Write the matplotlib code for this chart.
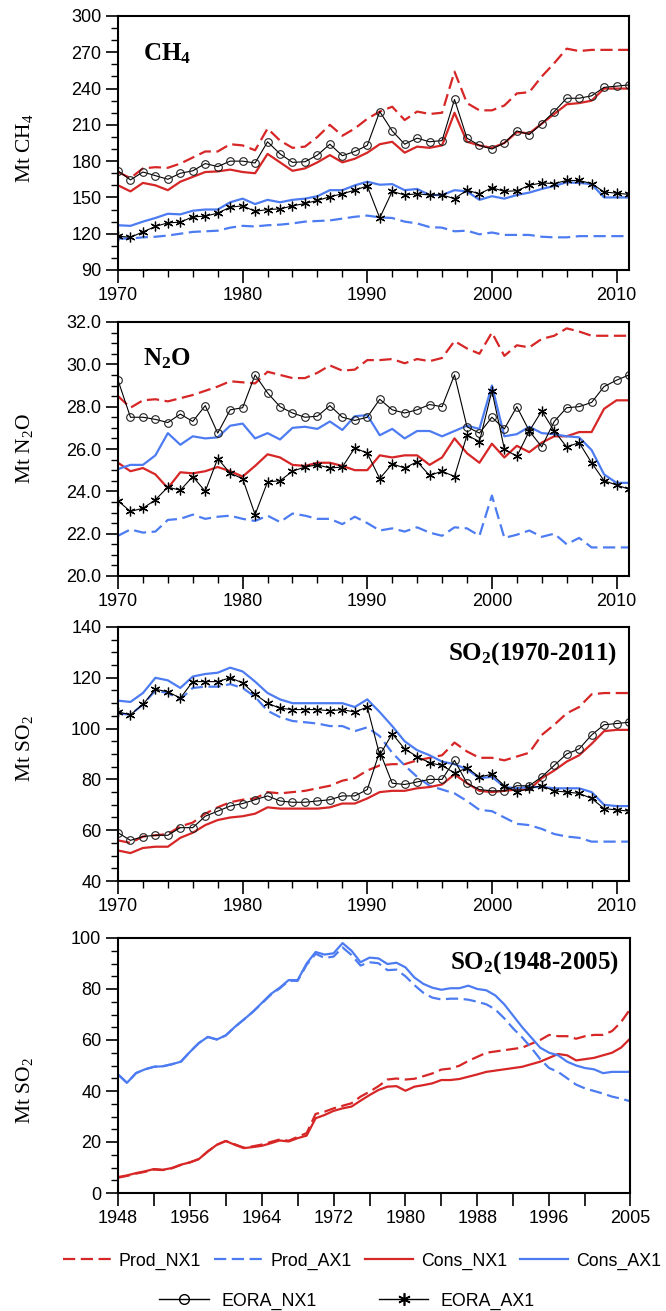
import numpy as np
import matplotlib
matplotlib.use('Agg')
import matplotlib.pyplot as plt
from matplotlib.lines import Line2D
from matplotlib.ticker import MultipleLocator, FixedLocator, FormatStrFormatter

# ---------------- data ----------------
years_a = list(range(1970, 2012))
years_b = list(range(1948, 2006))

# CH4 (Mt CH4), 1970-2011
ch4_prod_nx1 = [171, 166, 174, 175, 174.5, 178, 183, 188, 188, 194,
                193, 189, 207, 197, 191, 192, 200, 210, 201, 207,
                215, 221, 225, 214, 221, 219, 220, 254, 228, 222,
                222, 226, 236, 237, 250, 261, 273, 271, 272, 272,
                272, 272]
ch4_cons_nx1 = [160, 155, 162, 160, 156, 163, 167, 171, 171.5, 173,
                171, 170, 186, 179, 172, 174, 179, 185, 179, 182,
                187, 194, 196, 187, 192, 191, 193, 220, 196, 193,
                191, 195, 204, 203, 211, 219, 227, 228, 230, 240,
                240, 240]
ch4_eora_nx1 = [172, 164.5, 171, 168, 165, 170, 172, 178, 175.5, 180,
                180, 178.5, 196, 186, 179, 179.5, 185, 194, 184.5, 188,
                193, 221, 205, 194, 199, 196, 197, 231, 199, 193,
                190, 195, 205, 202, 211, 221, 232, 232, 234, 241,
                242, 243]
ch4_cons_ax1 = [127, 126.5, 130, 133, 136.5, 136, 139, 140, 140, 146,
                149, 144.5, 148, 146, 148, 149, 151, 156, 156, 160,
                163, 160.5, 161, 156, 157, 152, 152, 156, 155, 148,
                151, 149, 152, 154, 157, 159.5, 162.5, 162, 161, 150,
                150, 150]
ch4_eora_ax1 = [118, 117, 121.5, 126, 129, 129.5, 134, 134.5, 137, 142,
                143, 138.5, 140, 140.5, 143, 145, 147.5, 150.5, 153, 156,
                159.5, 133, 155, 152, 153, 152, 152, 149, 156, 153,
                158, 155, 155.5, 160, 162, 161.5, 164, 164, 161.5, 154.5,
                153.5, 152.5]
ch4_prod_ax1 = [116, 116, 117, 117.5, 118.5, 120, 121.5, 122, 122.5, 125,
                126.5, 126, 127, 127.5, 128.5, 130, 130.5, 131, 132.5, 134,
                135, 133.5, 133, 130, 128.5, 125.5, 125, 122, 122.5, 119.5,
                121, 119, 119, 119, 117.5, 117, 117, 118, 118, 118,
                118, 118]

# N2O (Mt N2O), 1970-2011
n2o_prod_nx1 = [28.5, 27.95, 28.3, 28.35, 28.25, 28.4, 28.55, 28.75, 28.95, 29.2,
                29.15, 29.1, 29.65, 29.5, 29.35, 29.35, 29.6, 29.95, 29.7, 29.75,
                30.2, 30.2, 30.25, 30.05, 30.25, 30.15, 30.3, 31.1, 30.75, 30.5,
                31.5, 30.4, 30.9, 30.8, 31.2, 31.35, 31.7, 31.55, 31.35, 31.35,
                31.35, 31.35]
n2o_eora_nx1 = [29.25, 27.5, 27.5, 27.4, 27.25, 27.65, 27.3, 28.05, 26.75, 27.85,
                27.95, 29.5, 28.65, 28.0, 27.7, 27.5, 27.55, 28.05, 27.5, 27.35,
                27.5, 28.35, 27.85, 27.7, 27.85, 28.1, 28.0, 29.5, 27.05, 26.75,
                27.5, 26.95, 28.0, 26.85, 26.1, 27.3, 27.95, 28.0, 28.2, 28.95,
                29.25, 29.5]
n2o_cons_ax1 = [25.05, 25.25, 25.25, 25.7, 26.75, 26.2, 26.6, 26.5, 26.55, 27.1,
                27.2, 26.5, 26.75, 26.45, 27.0, 27.05, 26.95, 27.3, 26.9, 27.55,
                27.6, 26.65, 26.95, 26.5, 26.85, 26.85, 26.6, 26.85, 27.1, 26.95,
                29.0, 26.6, 26.7, 27.05, 26.75, 26.7, 26.6, 26.55, 25.95, 24.8,
                24.4, 24.4]
n2o_cons_nx1 = [25.35, 24.95, 25.1, 24.8, 24.15, 24.9, 24.85, 24.95, 25.15, 24.95,
                24.7, 25.2, 25.75, 25.6, 25.25, 25.2, 25.35, 25.35, 25.2, 25.0,
                25.0, 25.7, 25.6, 25.7, 25.7, 25.25, 25.6, 26.5, 25.8, 25.35,
                26.25, 25.6, 26.15, 25.85, 26.3, 26.6, 26.6, 26.8, 26.8, 27.9,
                28.3, 28.3]
n2o_eora_ax1 = [23.55, 23.05, 23.2, 23.6, 24.2, 24.05, 24.7, 24.0, 25.55, 24.85,
                24.6, 22.9, 24.45, 24.5, 24.95, 25.15, 25.25, 25.1, 25.15, 26.05,
                25.8, 24.6, 25.3, 25.1, 25.4, 24.75, 24.95, 24.7, 26.65, 26.35,
                28.75, 26.0, 25.65, 26.85, 27.8, 26.85, 26.1, 26.3, 25.35, 24.5,
                24.3, 24.1]
n2o_prod_ax1 = [21.9, 22.2, 22.05, 22.1, 22.65, 22.7, 22.9, 22.7, 22.8, 22.85,
                22.7, 22.6, 22.85, 22.55, 22.95, 22.85, 22.7, 22.7, 22.45, 22.8,
                22.5, 22.15, 22.25, 22.1, 22.3, 22.05, 21.9, 22.3, 22.25, 21.9,
                23.8, 21.8, 21.95, 22.15, 21.85, 22.0, 21.5, 21.8, 21.35, 21.35,
                21.35, 21.35]

# SO2 (Mt SO2), 1970-2011
so2a_cons_ax1 = [111, 110.5, 114, 120, 119, 116, 120.5, 121.5, 122, 124,
                 122.5, 118.5, 114, 111.5, 110, 110, 110, 110, 110, 108.5,
                 111.5, 106.5, 101, 95, 91.5, 89.5, 87, 86, 84, 80.5,
                 81, 77, 76.5, 77, 77, 76.5, 76.5, 76.5, 75, 70,
                 69.5, 69.5]
so2a_eora_ax1 = [106.5, 105.5, 109.5, 115.5, 114.5, 112, 118.5, 118.5, 118.5, 120,
                 118, 113.5, 110, 108, 107.5, 107.5, 107.5, 107, 107.5, 106.5,
                 108.5, 89.5, 98, 92, 89, 86.5, 85.5, 82.5, 84.5, 81,
                 82, 77.5, 75, 76.5, 77.5, 75.5, 75, 74.5, 72.5, 68.5,
                 68, 67.5]
so2a_prod_ax1 = [106, 105.5, 109.5, 115, 114, 111.5, 116, 116.5, 116.5, 117.5,
                 116, 112.5, 107, 104.5, 103, 102.5, 102, 101, 101, 99,
                 100.5, 97, 90.5, 85.5, 81, 77.5, 76, 74.5, 71.5, 68,
                 67.5, 65, 62.5, 62, 60.5, 58.5, 57.5, 57, 55.5, 55.5,
                 55.5, 55.5]
so2a_prod_nx1 = [56, 55, 57.5, 58, 58.5, 61.5, 63, 66.5, 69, 71,
                 72, 72.5, 75, 74.5, 75, 75.5, 76.5, 77.5, 79.5, 80.5,
                 83.5, 85.5, 86, 86, 87.5, 88.5, 89.5, 94.5, 91, 88.5,
                 88.5, 87.5, 89, 90.5, 97.5, 101.5, 106, 108.5, 113.5, 114,
                 114, 114]
so2a_eora_nx1 = [59, 56, 57.5, 58, 58, 61, 61, 65.5, 67.5, 69.5,
                 70.5, 72, 73.5, 71.5, 71, 71, 71.5, 72, 73.5, 73.5,
                 76, 91, 78.5, 78, 79, 80, 80, 87.5, 78.5, 76,
                 75.5, 75.5, 77.5, 77.5, 81, 85.5, 90, 92, 97.5, 101.5,
                 102, 102.5]
so2a_cons_nx1 = [52, 51, 53, 53.5, 53.5, 57, 59, 62, 64, 65,
                 65.5, 66.5, 69, 68.5, 68.5, 68.5, 68.5, 69, 70.5, 70.5,
                 72.5, 75, 75.5, 75.5, 76.5, 77, 78, 82, 78.5, 75.5,
                 75, 75.5, 76, 76, 80.5, 83.5, 87, 89.5, 94, 99,
                 99.5, 99.5]

# SO2 (Mt SO2), 1948-2005
so2b_cons_ax1 = [46.5, 43.2, 47, 48.5, 49.5, 49.7, 50.5, 51.5, 55.3, 58.8,
                 61.2, 60.2, 61.8, 65.1, 68, 71, 74.5, 78, 80.5, 83.5,
                 83.5, 90, 94.5, 93.5, 94, 98, 95, 90.5, 92.3, 92,
                 89.8, 90.3, 88.5, 84.5, 82, 80.5, 79.7, 80.3, 80.3, 81.3,
                 80, 79.5, 77.5, 74, 69.5, 65, 61, 57, 55, 54,
                 51.5, 50, 49, 48.5, 47, 47.5, 47.5, 47.5]
so2b_prod_ax1 = [46.5, 43.2, 47, 48.5, 49.5, 49.7, 50.5, 51.5, 55.3, 58.8,
                 61.2, 60.2, 61.8, 65.1, 68, 71, 74.3, 77.7, 80.2, 83.2,
                 83.2, 89.5, 93.8, 92.2, 92.7, 96.3, 93.3, 89.2, 90.5, 90.1,
                 87.4, 87.6, 85, 81.5, 78.5, 76.6, 75.9, 76.2, 76.2, 75.8,
                 75, 74, 72, 68.5, 64.5, 61, 57, 52.5, 49, 47.5,
                 45, 42.5, 41, 40, 39, 37.8, 37, 36]
so2b_cons_nx1 = [6.25, 6.9, 7.8, 8.5, 9.4, 9.1, 9.8, 11.1, 12, 13.3,
                 16.3, 18.9, 20.4, 18.9, 17.6, 18, 18.5, 19.5, 20.6, 20.2,
                 21.5, 22.5, 29.3, 30.6, 32.2, 33.2, 33.9, 36.2, 38.4, 40.4,
                 41.7, 41.9, 40.1, 41.7, 42.3, 43, 44.3, 44.3, 44.7, 45.6,
                 46.5, 47.5, 48, 48.5, 49, 49.5, 50.5, 51.5, 53, 54.5,
                 54, 52, 52.5, 53, 54, 55, 57, 60.5]
so2b_prod_nx1 = [6, 6.7, 7.6, 8.3, 9.2, 9, 9.7, 11, 12, 13.3,
                 16.3, 18.9, 20.4, 19.1, 17.8, 18.3, 19, 20, 21, 20.5,
                 22, 23.5, 31, 31.9, 33.2, 34.2, 35.2, 37.8, 39.7, 41.9,
                 44.5, 44.9, 44.5, 44.8, 45.8, 46.9, 48.4, 48.8, 49.9, 51.8,
                 53.4, 55, 55.5, 56, 56.5, 57, 58.5, 60, 62, 61.5,
                 61.5, 60.5, 61.5, 62, 62, 63.5, 67, 72]

labels = ['Prod_NX1', 'Prod_AX1', 'Cons_NX1', 'Cons_AX1', 'EORA_NX1', 'EORA_AX1']

# ---------------- style ----------------
RED = '#d62626'
BLUE = '#4d7cf2'
plt.rcParams['font.family'] = ['Liberation Sans', 'DejaVu Sans']
plt.rcParams['mathtext.fontset'] = 'custom'
plt.rcParams['mathtext.rm'] = 'Liberation Serif'
plt.rcParams['mathtext.default'] = 'regular'

W, H = 666, 1311
fig = plt.figure(figsize=(W / 100, H / 100), dpi=100)


def make_axes(l, t, r, b):
    return fig.add_axes([l / W, 1 - b / H, (r - l) / W, (b - t) / H])


LW = 1.6
DASH = (5.5, 2.5)


def style(ax):
    for s in ax.spines.values():
        s.set_linewidth(1.5)
    ax.tick_params(which='both', direction='out', top=False, right=False)
    ax.tick_params(which='major', length=9, width=1.2, labelsize=13, pad=3)
    ax.tick_params(which='minor', length=5, width=1.0)


def draw_main(ax, pn, pa, cn, ca, en, ea, years):
    ax.plot(years, pn, color=RED, lw=LW, dashes=DASH)
    ax.plot(years, pa, color=BLUE, lw=LW, dashes=DASH)
    ax.plot(years, cn, color=RED, lw=LW)
    ax.plot(years, ca, color=BLUE, lw=LW)
    if en is not None:
        ax.plot(years, en, color='black', lw=0.8, marker='o', ms=5.5,
                mfc='none', mec='#222222', mew=0.8)
        ax.plot(years, ea, color='black', lw=0.8, marker=(6, 2, 0), ms=7,
                mec='black', mew=0.9)


def year_axis(ax):
    ax.set_xlim(1970, 2011)
    ax.xaxis.set_major_locator(FixedLocator([1970, 1980, 1990, 2000, 2010]))
    ax.xaxis.set_minor_locator(MultipleLocator(2))


serif = 'Liberation Serif'
YLX = -0.163

# Panel 1: CH4
ax1 = make_axes(118, 16, 629, 270)
draw_main(ax1, ch4_prod_nx1, ch4_prod_ax1, ch4_cons_nx1, ch4_cons_ax1,
          ch4_eora_nx1, ch4_eora_ax1, years_a)
year_axis(ax1)
ax1.set_ylim(90, 300)
ax1.yaxis.set_major_locator(MultipleLocator(30))
ax1.yaxis.set_minor_locator(MultipleLocator(10))
style(ax1)
ax1.set_ylabel('Mt CH$_4$', family=serif, fontsize=15.5)
ax1.yaxis.set_label_coords(YLX, 0.48)
ax1.text(0.049, 0.827, 'CH$_4$', transform=ax1.transAxes, family=serif,
         fontweight='bold', fontsize=18, va='baseline', ha='left')

# Panel 2: N2O
ax2 = make_axes(118, 322, 629, 576)
draw_main(ax2, n2o_prod_nx1, n2o_prod_ax1, n2o_cons_nx1, n2o_cons_ax1,
          n2o_eora_nx1, n2o_eora_ax1, years_a)
year_axis(ax2)
ax2.set_ylim(20, 32)
ax2.yaxis.set_major_locator(MultipleLocator(2))
ax2.yaxis.set_minor_locator(MultipleLocator(0.5))
ax2.yaxis.set_major_formatter(FormatStrFormatter('%.1f'))
style(ax2)
ax2.set_ylabel('Mt N$_2$O', family=serif, fontsize=15.5)
ax2.yaxis.set_label_coords(YLX, 0.50)
ax2.text(0.049, 0.83, 'N$_2$O', transform=ax2.transAxes, family=serif,
         fontweight='bold', fontsize=18, va='baseline', ha='left')

# Panel 3: SO2 1970-2011
ax3 = make_axes(118, 627, 629, 881)
draw_main(ax3, so2a_prod_nx1, so2a_prod_ax1, so2a_cons_nx1, so2a_cons_ax1,
          so2a_eora_nx1, so2a_eora_ax1, years_a)
year_axis(ax3)
ax3.set_ylim(40, 140)
ax3.yaxis.set_major_locator(MultipleLocator(20))
ax3.yaxis.set_minor_locator(MultipleLocator(5))
style(ax3)
ax3.set_ylabel('Mt SO$_2$', family=serif, fontsize=15.5)
ax3.yaxis.set_label_coords(YLX, 0.52)
ax3.text(0.646, 0.87, 'SO$_2$(1970-2011)', transform=ax3.transAxes, family=serif,
         fontweight='bold', fontsize=18, va='baseline', ha='left')

# Panel 4: SO2 1948-2005
ax4 = make_axes(118, 938, 630, 1193)
draw_main(ax4, so2b_prod_nx1, so2b_prod_ax1, so2b_cons_nx1, so2b_cons_ax1,
          None, None, years_b)
ax4.set_xlim(1948, 2005)
ax4.xaxis.set_major_locator(FixedLocator(list(range(1948, 2004, 4)) + [2005]))
ax4.set_xticklabels(['1948', '', '1956', '', '1964', '', '1972', '', '1980', '',
                     '1988', '', '1996', '', '2005'])
ax4.set_ylim(0, 100)
ax4.yaxis.set_major_locator(MultipleLocator(20))
ax4.yaxis.set_minor_locator(MultipleLocator(5))
style(ax4)
ax4.set_ylabel('Mt SO$_2$', family=serif, fontsize=15.5)
ax4.yaxis.set_label_coords(YLX, 0.40)
ax4.text(0.649, 0.882, 'SO$_2$(1948-2005)', transform=ax4.transAxes, family=serif,
         fontweight='bold', fontsize=18, va='baseline', ha='left')

# ---------------- legend ----------------
h1 = [Line2D([], [], color=RED, lw=LW, dashes=DASH),
      Line2D([], [], color=BLUE, lw=LW, dashes=DASH),
      Line2D([], [], color=RED, lw=LW),
      Line2D([], [], color=BLUE, lw=LW)]
h2 = [Line2D([], [], color='black', lw=1.0, marker='o', ms=7, mfc='none', mew=1.0),
      Line2D([], [], color='black', lw=1.0, marker=(6, 2, 0), ms=9, mew=1.2)]
leg1 = fig.legend(h1, labels[:4], loc='center', bbox_to_anchor=(362 / W, 1 - 1261 / H),
                  ncol=4, frameon=False, fontsize=12.8, handlelength=2.7,
                  handletextpad=0.45, columnspacing=0.75, borderpad=0, borderaxespad=0)
leg2 = fig.legend(h2, labels[4:], loc='center', bbox_to_anchor=(347 / W, 1 - 1301 / H),
                  ncol=2, frameon=False, fontsize=12.8, handlelength=2.8,
                  handletextpad=0.7, columnspacing=3.5, borderpad=0, borderaxespad=0,
                  numpoints=1)

fig.savefig('out.png', dpi=100)
